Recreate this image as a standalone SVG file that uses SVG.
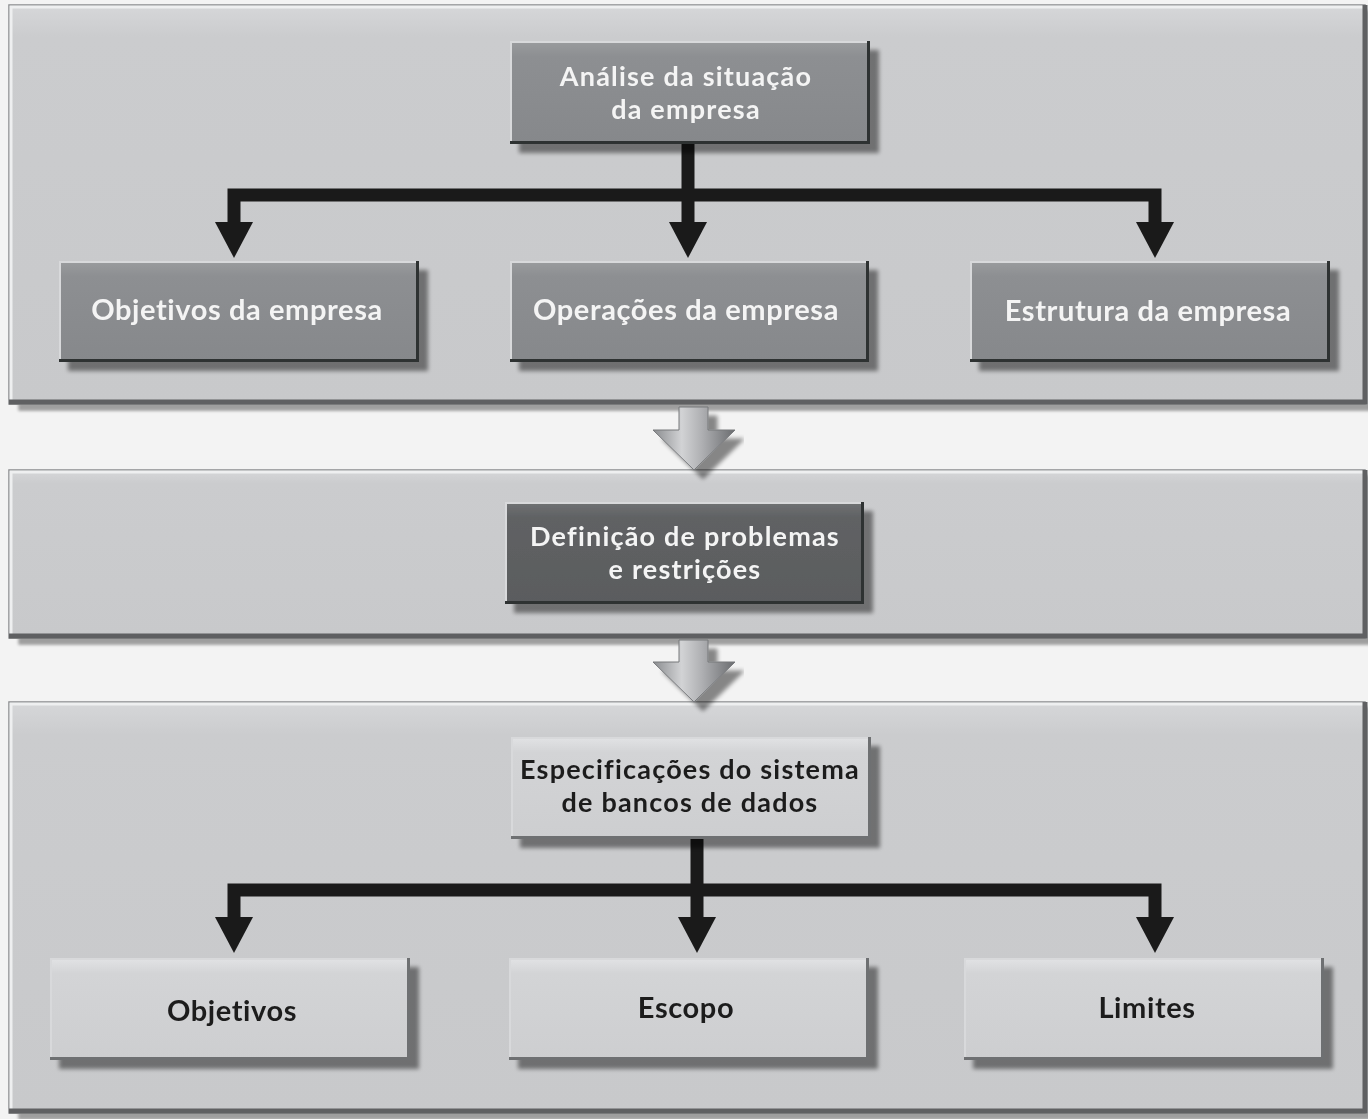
<svg xmlns="http://www.w3.org/2000/svg" width="1368" height="1119" viewBox="0 0 1368 1119">
  <defs>
    <linearGradient id="panelFill" x1="0" y1="0" x2="0" y2="1">
      <stop offset="0" stop-color="#d6d7d9"/>
      <stop offset="0.08" stop-color="#cbccce"/>
      <stop offset="1" stop-color="#c8c9cb"/>
    </linearGradient>
    <linearGradient id="midFill" x1="0" y1="0" x2="0" y2="1">
      <stop offset="0" stop-color="#9a9c9e"/>
      <stop offset="0.15" stop-color="#8d8f92"/>
      <stop offset="1" stop-color="#86888b"/>
    </linearGradient>
    <linearGradient id="darkFill" x1="0" y1="0" x2="0" y2="1">
      <stop offset="0" stop-color="#707274"/>
      <stop offset="0.15" stop-color="#606264"/>
      <stop offset="1" stop-color="#5a5c5e"/>
    </linearGradient>
    <linearGradient id="lightFill" x1="0" y1="0" x2="0" y2="1">
      <stop offset="0" stop-color="#e2e3e5"/>
      <stop offset="0.15" stop-color="#d3d4d6"/>
      <stop offset="1" stop-color="#cdced0"/>
    </linearGradient>
    <linearGradient id="flowFill" x1="0" y1="0" x2="1" y2="0">
      <stop offset="0" stop-color="#8a8c8f"/>
      <stop offset="0.35" stop-color="#d2d3d5"/>
      <stop offset="0.6" stop-color="#aeafb2"/>
      <stop offset="1" stop-color="#6a6c6f"/>
    </linearGradient>
    <filter id="shadow" x="-5%" y="-10%" width="115%" height="130%">
      <feGaussianBlur in="SourceAlpha" stdDeviation="2"/>
      <feOffset dx="9" dy="9" result="b"/>
      <feComponentTransfer><feFuncA type="linear" slope="0.45"/></feComponentTransfer>
      <feMerge><feMergeNode/><feMergeNode in="SourceGraphic"/></feMerge>
    </filter>
    <filter id="panelShadow" x="-2%" y="-5%" width="104%" height="115%">
      <feGaussianBlur in="SourceAlpha" stdDeviation="1.5"/>
      <feOffset dx="10" dy="6" result="b"/>
      <feComponentTransfer><feFuncA type="linear" slope="0.35"/></feComponentTransfer>
      <feMerge><feMergeNode/><feMergeNode in="SourceGraphic"/></feMerge>
    </filter>
  </defs>
  <style>
    .panel { fill: url(#panelFill); stroke: #8a8c8e; stroke-width: 1.5; }
    .pedge { fill: none; stroke: #5e6062; stroke-width: 5; }
    .phi { fill: none; stroke: #eeeff0; stroke-width: 3; }
    .box-mid { fill: url(#midFill); }
    .box-dark { fill: url(#darkFill); }
    .box-light { fill: url(#lightFill); }
    .hi { fill: none; stroke: #d8d9db; stroke-width: 2; }
    .lo { fill: none; stroke: #2e3032; stroke-width: 3; }
    .lo-light { fill: none; stroke: #6e7072; stroke-width: 3; }
    .t { font-family: Lato, "Open Sans", "Liberation Sans", sans-serif; font-weight: 700; font-size: 29px; letter-spacing: 0.6px; text-anchor: middle; }
    .t2 { font-size: 27px; letter-spacing: 1.2px; }
    .tw { fill: #f4f4f4; }
    .tk { fill: #1e1e1e; }
    .wire { fill: none; stroke: #1a1a1a; stroke-width: 13; stroke-linejoin: miter; }
    .head { fill: #1a1a1a; }
    .flow { fill: url(#flowFill); stroke: #76787b; stroke-width: 1; }
  </style>

  <rect x="0" y="0" width="1368" height="1119" fill="#f3f3f3"/>

  <!-- Panels -->
  <g id="panel-situacao" filter="url(#panelShadow)">
    <rect class="panel" x="9" y="5" width="1356" height="399"/>
    <path class="phi" d="M11 402 V7 H1363"/>
    <path class="pedge" d="M9 402 H1365 V5"/>
  </g>
  <g id="panel-problemas" filter="url(#panelShadow)">
    <rect class="panel" x="9" y="470" width="1356" height="168"/>
    <path class="phi" d="M11 636 V472 H1363"/>
    <path class="pedge" d="M9 636 H1365 V470"/>
  </g>
  <g id="panel-especificacoes" filter="url(#panelShadow)">
    <rect class="panel" x="9" y="702" width="1356" height="411"/>
    <path class="phi" d="M11 1111 V704 H1363"/>
    <path class="pedge" d="M9 1111 H1365 V702"/>
  </g>

  <!-- Flow arrows between panels -->
  <g id="flow-1" filter="url(#shadow)">
    <polygon class="flow" points="679,407 708,407 708,430 735,430 694,470 653,430 679,430"/>
  </g>
  <g id="flow-2" filter="url(#shadow)">
    <polygon class="flow" points="679,640 708,640 708,662 735,662 694,702 653,662 679,662"/>
  </g>

  <!-- Connectors -->
  <g id="connectors">
    <path class="wire" d="M688 144 V195"/>
    <path class="wire" d="M234 224 V195 H1155 V224"/>
    <path class="wire" d="M688 195 V224"/>
    <polygon class="head" points="215,222 253,222 234,258"/>
    <polygon class="head" points="669,222 707,222 688,258"/>
    <polygon class="head" points="1136,222 1174,222 1155,258"/>

    <path class="wire" d="M697 839 V890"/>
    <path class="wire" d="M234 919 V890 H1155 V919"/>
    <path class="wire" d="M697 890 V919"/>
    <polygon class="head" points="215,917 253,917 234,953"/>
    <polygon class="head" points="678,917 716,917 697,953"/>
    <polygon class="head" points="1136,917 1174,917 1155,953"/>
  </g>

  <!-- Nodes -->
  <g id="node-analise" filter="url(#shadow)">
    <rect class="box-mid" x="510" y="41" width="360" height="103"/>
    <path class="hi" d="M511 143 V42 H869"/>
    <path class="lo" d="M510 142.5 H868.5 V41"/>
    <text class="t t2 tw" x="686" y="86">Análise da situação<tspan x="686" y="119">da empresa</tspan></text>
  </g>
  <g id="node-objetivos-empresa" filter="url(#shadow)">
    <rect class="box-mid" x="59" y="261" width="360" height="101"/>
    <path class="hi" d="M60 361 V262 H418"/>
    <path class="lo" d="M59 360.5 H417.5 V261"/>
    <text class="t tw" x="237" y="320">Objetivos da empresa</text>
  </g>
  <g id="node-operacoes" filter="url(#shadow)">
    <rect class="box-mid" x="510" y="261" width="359" height="101"/>
    <path class="hi" d="M511 361 V262 H868"/>
    <path class="lo" d="M510 360.5 H867.5 V261"/>
    <text class="t tw" x="686" y="320">Operações da empresa</text>
  </g>
  <g id="node-estrutura" filter="url(#shadow)">
    <rect class="box-mid" x="970" y="261" width="360" height="101"/>
    <path class="hi" d="M971 361 V262 H1329"/>
    <path class="lo" d="M970 360.5 H1328.5 V261"/>
    <text class="t tw" x="1148" y="321">Estrutura da empresa</text>
  </g>
  <g id="node-definicao" filter="url(#shadow)">
    <rect class="box-dark" x="505" y="502" width="359" height="102"/>
    <path class="hi" d="M506 603 V503 H863"/>
    <path class="lo" d="M505 602.5 H862.5 V502" stroke="#141414"/>
    <text class="t t2 tw" x="685" y="546">Definição de problemas<tspan x="685" y="579">e restrições</tspan></text>
  </g>
  <g id="node-especificacoes" filter="url(#shadow)">
    <rect class="box-light" x="511" y="737" width="360" height="102"/>
    <path class="hi" d="M512 838 V738 H870" stroke="#f0f0f1"/>
    <path class="lo-light" d="M511 837.5 H869.5 V737"/>
    <text class="t t2 tk" x="690" y="779">Especificações do sistema<tspan x="690" y="812">de bancos de dados</tspan></text>
  </g>
  <g id="node-objetivos" filter="url(#shadow)">
    <rect class="box-light" x="50" y="958" width="360" height="102"/>
    <path class="hi" d="M51 1059 V959 H409" stroke="#f0f0f1"/>
    <path class="lo-light" d="M50 1058.5 H408.5 V958"/>
    <text class="t tk" x="232" y="1021">Objetivos</text>
  </g>
  <g id="node-escopo" filter="url(#shadow)">
    <rect class="box-light" x="509" y="958" width="360" height="102"/>
    <path class="hi" d="M510 1059 V959 H868" stroke="#f0f0f1"/>
    <path class="lo-light" d="M509 1058.5 H867.5 V958"/>
    <text class="t tk" x="686" y="1018">Escopo</text>
  </g>
  <g id="node-limites" filter="url(#shadow)">
    <rect class="box-light" x="964" y="958" width="360" height="102"/>
    <path class="hi" d="M965 1059 V959 H1323" stroke="#f0f0f1"/>
    <path class="lo-light" d="M964 1058.5 H1322.5 V958"/>
    <text class="t tk" x="1147" y="1018">Limites</text>
  </g>
</svg>
